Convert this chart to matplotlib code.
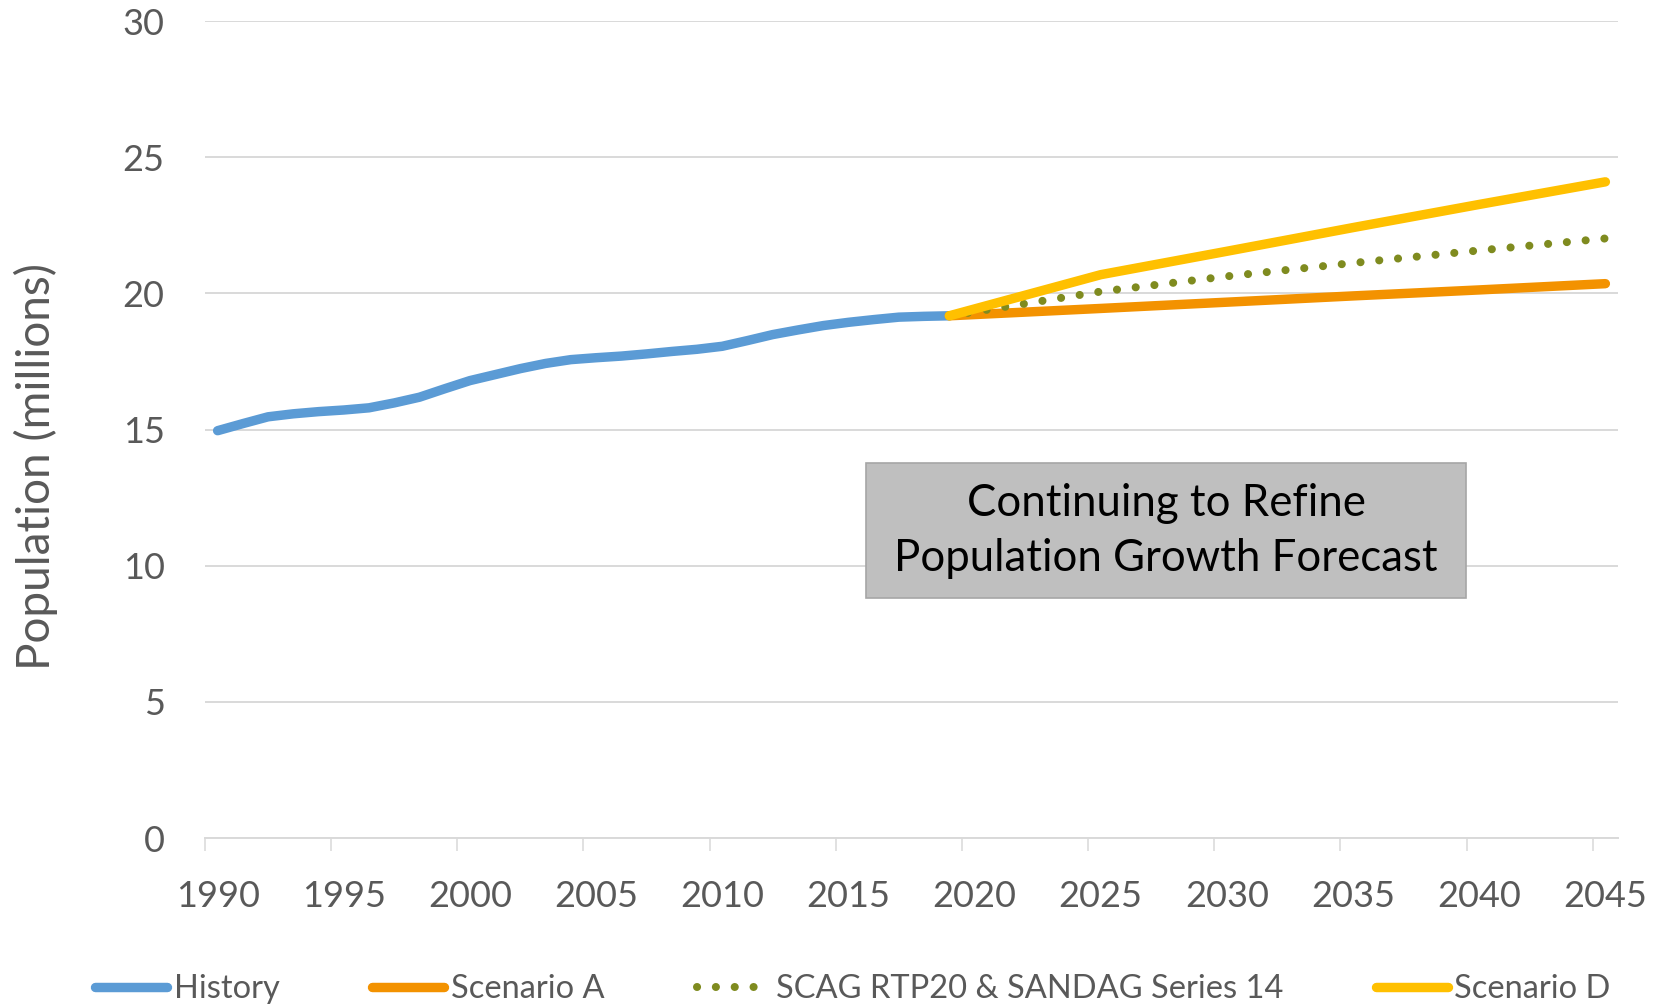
import matplotlib
matplotlib.use("Agg")
import matplotlib.pyplot as plt
from matplotlib.patches import Rectangle

plt.rcParams['font.family'] = ['Lato', 'DejaVu Sans']

# History, one value per year (millions)
hist_years = list(range(1990, 2020))
history = [14.96, 15.22, 15.47, 15.58, 15.66, 15.72, 15.80, 15.98, 16.19, 16.50,
           16.80, 17.02, 17.24, 17.43, 17.57, 17.64, 17.70, 17.78, 17.87, 17.95,
           18.06, 18.27, 18.49, 18.66, 18.82, 18.94, 19.04, 19.13, 19.16, 19.18]

# Forecasts
fc_years = [2019, 2025, 2030, 2035, 2040, 2045]
scenario_a = [19.18, 19.45, 19.68, 19.91, 20.13, 20.36]
scag_sandag = [19.18, 20.07, 20.63, 21.12, 21.58, 22.02]
scenario_d = [19.18, 20.69, 21.55, 22.42, 23.27, 24.10]

tick_years = list(range(1990, 2050, 5))
y_ticks = [0, 5, 10, 15, 20, 25, 30]

W, H = 1663, 1007
fig = plt.figure(figsize=(W / 100, H / 100), dpi=100)
ax = fig.add_axes([205 / W, 1 - 838 / H, (1618 - 205) / W, (838 - 21.2) / H])

lw = 6.8
ax.plot(hist_years, history, color='#5b9bd5', lw=lw, solid_capstyle='round',
        solid_joinstyle='round', label='History', clip_on=False)
ax.plot(fc_years, scenario_a, color='#f39200', lw=lw, solid_capstyle='round',
        solid_joinstyle='round', label='Scenario A', clip_on=False)
ax.plot(fc_years, scag_sandag, color='#7f8b1f', lw=5.8, ls=(0, (0.01, 2.33)),
        dash_capstyle='round', label='SCAG RTP20 & SANDAG Series 14', clip_on=False)
ax.plot(fc_years, scenario_d, color='#ffc000', lw=lw, solid_capstyle='round',
        solid_joinstyle='round', label='Scenario D', clip_on=False)

ax.set_xlim(1989.5, 2045.5)
ax.set_ylim(0, 30)

grid_c = '#d9d9d9'
ax.set_yticks(y_ticks)
ax.set_yticklabels([str(v) for v in y_ticks])
ax.yaxis.grid(True, color=grid_c, lw=1.4)
ax.set_axisbelow(True)
ax.tick_params(axis='y', length=0, pad=29, labelsize=26, labelcolor='#595959')

# tick marks between categories, labels on the category centres
ax.set_xticks([y - 0.5 for y in tick_years])
ax.set_xticklabels([])
ax.set_xticks(tick_years, minor=True)
ax.set_xticklabels([str(y) for y in tick_years], minor=True)
ax.tick_params(axis='x', which='major', direction='out', length=9.4, width=1.1, color=grid_c)
ax.tick_params(axis='x', which='minor', length=0, pad=30, labelsize=26, labelcolor='#595959')

for s in ['top', 'right', 'left']:
    ax.spines[s].set_visible(False)
ax.spines['bottom'].set_color(grid_c)
ax.spines['bottom'].set_linewidth(1.4)

fig.text(36 / W, 1 - 467 / H, 'Population (millions)', rotation=90, ha='center',
         va='center', fontsize=33, color='#595959')

# annotation box
fig.patches.append(Rectangle((866 / W, 1 - 598 / H), 600 / W, 135 / H,
                             transform=fig.transFigure, facecolor='#bfbfbf',
                             edgecolor='#a6a6a6', lw=1.2))
fig.text(1166 / W, 1 - 531 / H, 'Continuing to Refine\nPopulation Growth Forecast',
         ha='center', va='center', fontsize=31.5, color='black', linespacing=1.42)

fig.legend(loc='center', bbox_to_anchor=(853 / W, 1 - 989 / H), ncol=4, frameon=False,
           fontsize=23.5, labelcolor='#595959', handlelength=2.2, handletextpad=0.2,
           columnspacing=2.85, borderaxespad=0, borderpad=0)

fig.savefig('out.png', dpi=100)
